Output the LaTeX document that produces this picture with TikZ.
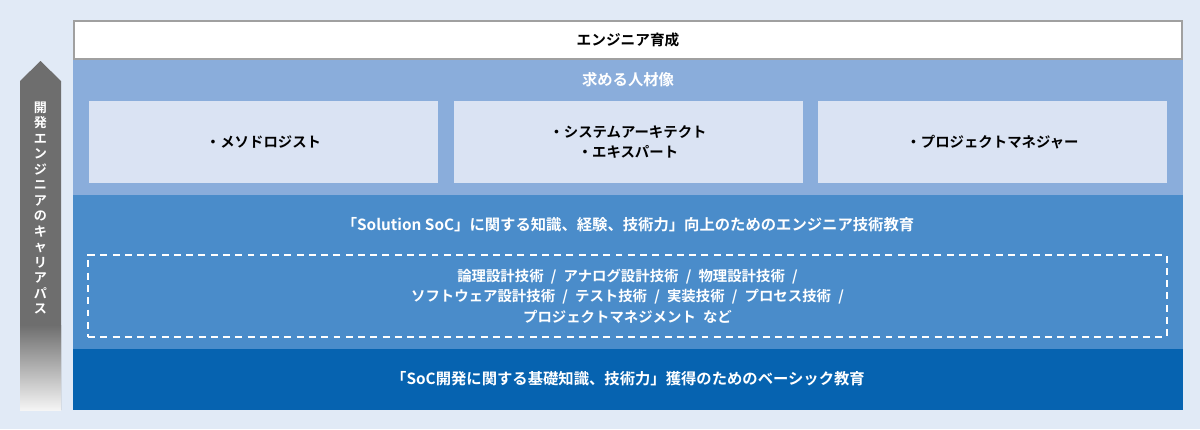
\documentclass[tikz,border=0pt]{standalone}
\usepackage{fontspec}
\setmainfont{Noto Sans CJK JP}[BoldFont={Noto Sans CJK JP Bold}]
\definecolor{bgblue}{HTML}{E1EAF6}
\definecolor{lightband}{HTML}{8AADDB}
\definecolor{rolefill}{HTML}{DAE3F3}
\definecolor{midband}{HTML}{4A8CCA}
\definecolor{darkband}{HTML}{0663B0}
\definecolor{frame}{HTML}{A0A0A0}
\definecolor{arrowgray}{HTML}{6E6E6E}
\newcommand\slsep{\hspace{0.5em}/\hspace{0.5em}}

\begin{document}
\begin{tikzpicture}[x=0.75pt,y=-0.75pt,
  lbl/.style={font=\bfseries\fontsize{11.5}{15.4}\selectfont,align=center,inner sep=0pt},
  rolebox/.style={lbl,font=\bfseries\fontsize{10.8}{15.6}\selectfont,fill=rolefill,text=black,minimum width=261.75pt,minimum height=61.5pt},
  arrowtext/.style={font=\bfseries\fontsize{9.8}{11.6}\selectfont,align=center,text=white,inner sep=0pt}]
\useasboundingbox (0,0) rectangle (1200,429);
\fill[bgblue] (0,0) rectangle (1200,429);
\fill[arrowgray] (20,81)--(40.5,61)--(61,81)--(61,410)--(20,410)--cycle;
\shade[top color=arrowgray,bottom color=white!96!black] (20,325) rectangle (61,410);
\node[arrowtext] (career) at (40.5,208) {開\\発\\エ\\ン\\ジ\\ニ\\ア\\の\\キ\\ャ\\リ\\ア\\パ\\ス};
\fill[lightband] (73,60) rectangle (1183,195);
\fill[midband] (73,195) rectangle (1183,349);
\fill[darkband] (73,349) rectangle (1183,410);
\draw[frame,line width=1.8pt,fill=white] (74.2,21.2) rectangle (1181.8,58.8);
\node[lbl,font=\bfseries\fontsize{11}{14}\selectfont] (title) at (628,40) {エンジニア育成};
\node[lbl,text=white] (wanted) at (628,80) {求める人材像};
\node[rolebox] (methodologist) at (263.5,142) {・メソドロジスト};
\node[rolebox] (architect) at (628,142) {・システムアーキテクト\\・エキスパート};
\node[rolebox] (manager) at (992.5,142) {・プロジェクトマネジャー};
\node[lbl,text=white] (solution) at (628,225) {「Solution SoC」に関する知識、経験、技術力」向上のためのエンジニア技術教育};
\node[lbl,font=\bfseries\fontsize{10.8}{15.4}\selectfont,text=white,draw=white,line width=1.5pt,dash pattern=on 5.2pt off 4pt,
  minimum width=809pt,minimum height=61.5pt] (skills) at (627.5,296)
  {論理設計技術\slsep アナログ設計技術\slsep 物理設計技術\slsep\\ソフトウェア設計技術\slsep テスト技術\slsep 実装技術\slsep プロセス技術\slsep\\プロジェクトマネジメント\hspace{0.5em}など};
\node[lbl,text=white] (basic) at (628,379) {「SoC開発に関する基礎知識、技術力」獲得のためのベーシック教育};
\end{tikzpicture}
\end{document}
